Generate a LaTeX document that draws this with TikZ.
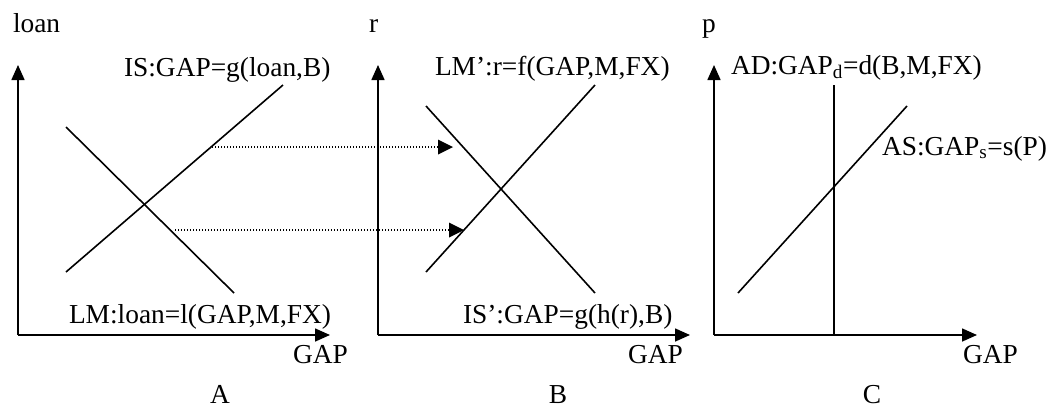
\documentclass[tikz,border=0pt]{standalone}
\usepackage{fontspec}
\setmainfont{Liberation Serif}
\usetikzlibrary{arrows.meta}
\begin{document}
\begin{tikzpicture}[x=1bp,y=-1bp,
  every node/.style={inner sep=0pt,outer sep=0pt,font=\fontsize{27.5}{33}\selectfont},
  axis/.style={line width=1.6bp,-{Triangle[length=15bp,width=13bp]}},
  curve/.style={line width=1.6bp},
  shiftarrow/.style={line width=1.3bp,dash pattern=on 1.2bp off 1.8bp,-{Triangle[length=15bp,width=15bp,line width=0bp]}},
  lbl/.style={anchor=base west},
  ctr/.style={anchor=base,text depth=0pt}]
\useasboundingbox (0,0) rectangle (1050,408);
% Panel A
\coordinate (oA) at (18,335);
\coordinate (yA) at (18,65);
\coordinate (xA) at (330,335);
\draw[axis] (oA) -- (yA);
\draw[axis] (oA) -- (xA);
\coordinate (isA1) at (66,272); \coordinate (isA2) at (283,85);
\coordinate (lmA1) at (66,127); \coordinate (lmA2) at (234,293);
\draw[curve] (isA1) -- (isA2);
\draw[curve] (lmA1) -- (lmA2);
\node[lbl] (loanlab) at (13,32) {loan};
\node[lbl] (islab) at (124,76) {IS:GAP=g(loan,B)};
\node[lbl] (lmlab) at (69,323) {LM:loan=l(GAP,M,FX)};
\node[lbl] (gapA) at (293,363) {GAP};
\node[ctr] (A) at (220,403) {A};
% Panel B
\coordinate (oB) at (378,335);
\coordinate (yB) at (378,65);
\coordinate (xB) at (690,335);
\draw[axis] (oB) -- (yB);
\draw[axis] (oB) -- (xB);
\coordinate (lmB1) at (426,272); \coordinate (lmB2) at (595,85);
\coordinate (isB1) at (426,106); \coordinate (isB2) at (595,293);
\draw[curve] (lmB1) -- (lmB2);
\draw[curve] (isB1) -- (isB2);
\node[lbl] (rlab) at (369,32) {r};
\node[lbl] (lmplab) at (435,75) {LM’:r=f(GAP,M,FX)};
\node[lbl] (isplab) at (463,323) {IS’:GAP=g(h(r),B)};
\node[lbl] (gapB) at (628,363) {GAP};
\node[ctr] (B) at (558,403) {B};
% shifts
\coordinate (s1a) at (212,147); \coordinate (s1b) at (453,147);
\coordinate (s2a) at (175,230); \coordinate (s2b) at (464,230);
\draw[shiftarrow] (s1a) -- (s1b);
\draw[shiftarrow] (s2a) -- (s2b);
% Panel C
\coordinate (oC) at (714,335);
\coordinate (yC) at (714,65);
\coordinate (xC) at (977,335);
\draw[axis] (oC) -- (yC);
\draw[axis] (oC) -- (xC);
\coordinate (ad1) at (834,85); \coordinate (ad2) at (834,335);
\coordinate (as1) at (738,293); \coordinate (as2) at (907,106);
\draw[curve] (ad1) -- (ad2);
\draw[curve] (as1) -- (as2);
\node[lbl] (plab) at (702,32) {p};
\node[lbl] (adlab) at (731,74) {AD:GAP\textsubscript{d}=d(B,M,FX)};
\node[lbl] (aslab) at (882,155) {AS:GAP\textsubscript{s}=s(P)};
\node[lbl] (gapC) at (963,363) {GAP};
\node[ctr] (C) at (872,403) {C};
\end{tikzpicture}
\end{document}
